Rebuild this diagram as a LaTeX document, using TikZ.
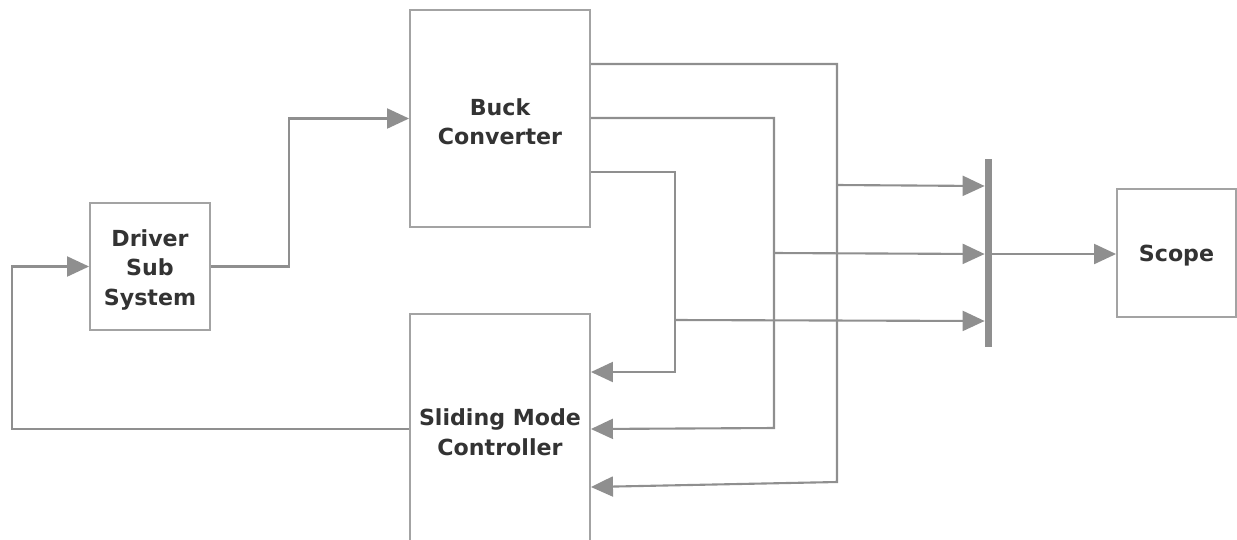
\documentclass[tikz,border=0pt]{standalone}
\usepackage{fontspec}
\setmainfont{DejaVu Sans}
\usetikzlibrary{arrows.meta}
\definecolor{boxgray}{HTML}{A3A3A3}
\definecolor{linegray}{HTML}{8F8F8F}
\definecolor{txt}{HTML}{333333}
\tikzset{
  blockbox/.style={draw=boxgray, line width=1.1pt, fill=white, inner sep=0pt},
  blocktext/.style={align=center, font=\fontsize{12.6}{16.8}\selectfont\bfseries,
    text=txt, inner sep=0pt, yshift=-3*0.02cm},
  conn/.style={draw=linegray, line width=1.2pt},
  arr/.style={conn, -{Triangle[length=0.44cm,width=0.4cm]}},
}
\begin{document}
\begin{tikzpicture}[x=0.02cm,y=-0.02cm]
\useasboundingbox (0,0) rectangle (1237,539);
\node[blockbox, minimum width=2.4cm, minimum height=2.54cm] (drv) at (150,266.5) {};
\node[blockbox, minimum width=3.6cm, minimum height=4.34cm] (buck) at (500,118.5) {};
\node[blockbox, minimum width=3.6cm, minimum height=4.6cm] (smc) at (500,429) {};
\node[blockbox, minimum width=2.38cm, minimum height=2.56cm] (scope) at (1176.5,253) {};
\node[blocktext] (drvt) at (drv.center) {Driver\\Sub\\System};
\node[blocktext] (buckt) at (buck.center) {Buck\\Converter};
\node[blocktext] (smct) at (smc.center) {Sliding Mode\\Controller};
\node[blocktext] (scopet) at (scope.center) {Scope};
\node[fill=linegray, draw=none, minimum width=0.14cm, minimum height=3.76cm, inner sep=0pt] (mux) at (988.5,253) {};
% driver to buck
\draw[arr] (drv.east) -- (289,266.5) |- (buck.west);
% buck outputs
\draw[arr] (buck.east |- 0,64) -| (837,482) -- (smc.east |- 0,487);
\draw[arr] (buck.east |- 0,118) -| (774,428) -- (smc.east |- 0,429);
\draw[arr] (buck.east |- 0,172) -| (675,372) -- (smc.east |- 0,372);
% branches to mux
\draw[arr] (837,185) -- (mux.west |- 0,186);
\draw[arr] (774,253) -- (mux.west |- 0,254);
\draw[arr] (675,320) -- (mux.west |- 0,321);
% mux to scope
\draw[arr] (mux.east |- 0,254) -- (scope.west |- 0,254);
% feedback
\draw[arr] (smc.west) -- (12,429) |- (drv.west);
\end{tikzpicture}
\end{document}
